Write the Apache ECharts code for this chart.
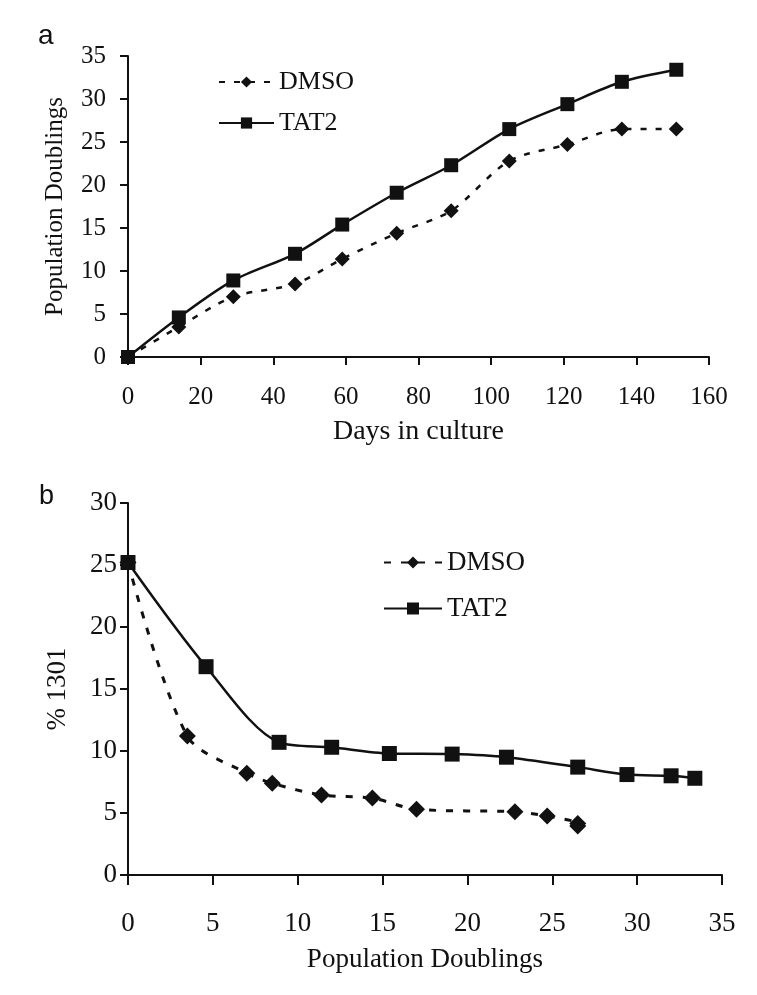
<!DOCTYPE html>
<html>
<head>
<meta charset="utf-8">
<script src="https://cdn.jsdelivr.net/npm/echarts@6/dist/echarts.min.js"></script>
<style>
html,body{margin:0;padding:0;background:#fff;}
#chart{width:757px;height:995px;}
</style>
</head>
<body>
<div id="chart"></div>
<script>
// Panel a: population doublings vs days in culture
const days = [0, 14, 29, 46, 59, 74, 89, 105, 121, 136, 151];
const dmsoPD = [0, 3.5, 7.0, 8.5, 11.4, 14.4, 17.0, 22.8, 24.7, 26.5, 26.5];
const tat2PD = [0, 4.6, 8.9, 12.0, 15.4, 19.1, 22.3, 26.5, 29.4, 32.0, 33.4];
// Panel b: % 1301 vs population doublings
const dmsoPct = [25.2, 11.2, 8.2, 7.4, 6.45, 6.2, 5.3, 5.1, 4.75, 4.15, 3.95];
const tat2Pct = [25.2, 16.8, 10.7, 10.3, 9.8, 9.75, 9.5, 8.7, 8.1, 8.0, 7.8];
const seriesNames = ['DMSO', 'TAT2'];

const pair = (xs, ys) => xs.map((x, i) => [x, ys[i]]);
const serif = 'Liberation Serif';
const black = '#111';

function axisCommon(fontSize, margin, tickLen) {
  return {
    axisLine: {show: true, lineStyle: {color: black, width: 2}},
    axisTick: {show: true, length: tickLen, lineStyle: {color: black, width: 2}},
    splitLine: {show: false},
    axisLabel: {color: black, fontFamily: serif, fontSize: fontSize, margin: margin},
    nameTextStyle: {color: black, fontFamily: serif},
    nameLocation: 'middle'
  };
}

const chart = echarts.init(document.getElementById('chart'));
chart.setOption({
  backgroundColor: '#fff',
  animation: false,
  title: [
    {text: 'a', left: 33, top: 17, textStyle: {fontFamily: 'Liberation Sans', fontSize: 28, fontWeight: 'normal', color: black}},
    {text: 'b', left: 34, top: 478, textStyle: {fontFamily: 'Liberation Sans', fontSize: 27, fontWeight: 'normal', color: black}}
  ],
  legend: [
    {
      data: seriesNames, left: 213, top: 64, orient: 'vertical', itemWidth: 55, itemHeight: 14, itemGap: 15,
      textStyle: {fontFamily: serif, fontSize: 26, lineHeight: 26, color: black},
      selectedMode: false
    },
    {
      data: ['DMSO ', 'TAT2 '], left: 378, top: 544, orient: 'vertical', itemWidth: 58, itemHeight: 15, itemGap: 19,
      textStyle: {fontFamily: serif, fontSize: 27, lineHeight: 26, color: black},
      selectedMode: false
    }
  ],
  grid: [
    {left: 128, top: 56, width: 581, height: 301, containLabel: false},
    {left: 128, top: 503, width: 594, height: 372, containLabel: false}
  ],
  xAxis: [
    Object.assign(axisCommon(25, 28, 8), {
      gridIndex: 0, type: 'value', min: 0, max: 160, interval: 20,
      name: 'Days in culture', nameGap: 61,
      nameTextStyle: {color: black, fontFamily: serif, fontSize: 28}
    }),
    Object.assign(axisCommon(27, 35, 10), {
      gridIndex: 1, type: 'value', min: 0, max: 35, interval: 5,
      name: 'Population Doublings', nameGap: 71,
      nameTextStyle: {color: black, fontFamily: serif, fontSize: 27}
    })
  ],
  yAxis: [
    Object.assign(axisCommon(25, 22, 8), {
      gridIndex: 0, type: 'value', min: 0, max: 35, interval: 5,
      name: 'Population Doublings', nameGap: 60,
      nameTextStyle: {color: black, fontFamily: serif, fontSize: 25}
    }),
    Object.assign(axisCommon(27, 11, 8), {
      gridIndex: 1, type: 'value', min: 0, max: 30, interval: 5,
      name: '% 1301', nameGap: 57,
      nameTextStyle: {color: black, fontFamily: serif, fontSize: 27}
    })
  ],
  series: [
    {
      name: 'DMSO', type: 'line', xAxisIndex: 0, yAxisIndex: 0, data: pair(days, dmsoPD),
      smooth: 0.3, symbol: 'diamond', symbolSize: 15,
      itemStyle: {color: black}, lineStyle: {color: black, width: 2.5, type: [6, 9]}
    },
    {
      name: 'TAT2', type: 'line', xAxisIndex: 0, yAxisIndex: 0, data: pair(days, tat2PD),
      smooth: 0.3, symbol: 'rect', symbolSize: 14,
      itemStyle: {color: black}, lineStyle: {color: black, width: 2.5, type: 'solid'}
    },
    {
      name: 'DMSO ', type: 'line', xAxisIndex: 1, yAxisIndex: 1, data: pair(dmsoPD, dmsoPct),
      smooth: 0.3, symbol: 'diamond', symbolSize: 17,
      itemStyle: {color: black}, lineStyle: {color: black, width: 3, type: [7, 10]}
    },
    {
      name: 'TAT2 ', type: 'line', xAxisIndex: 1, yAxisIndex: 1, data: pair(tat2PD, tat2Pct),
      smooth: 0.3, symbol: 'rect', symbolSize: 15,
      itemStyle: {color: black}, lineStyle: {color: black, width: 2.5, type: 'solid'}
    }
  ]
});
</script>
</body>
</html>
